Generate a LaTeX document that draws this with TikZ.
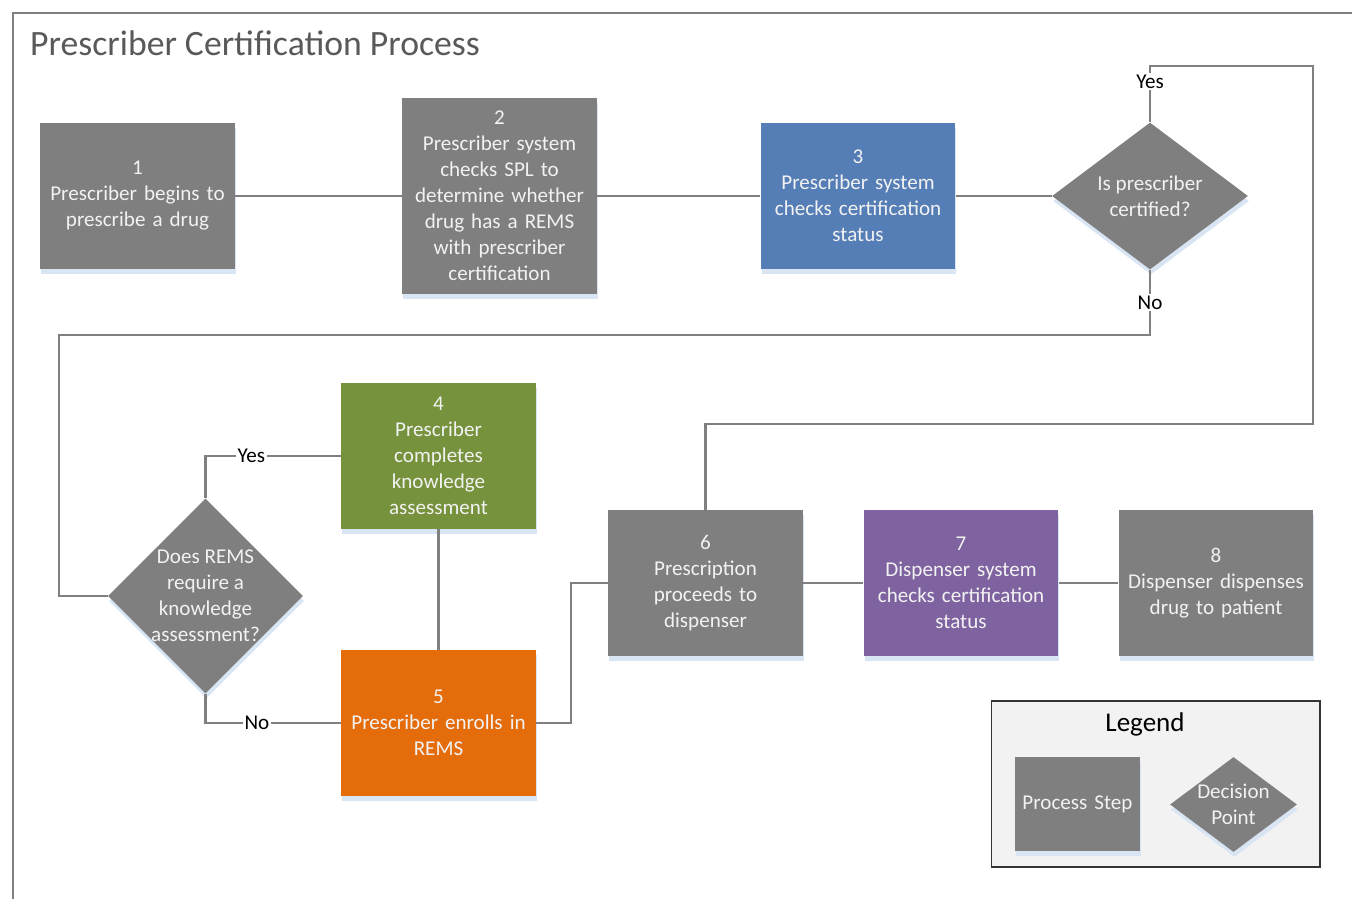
\documentclass[tikz,border=0pt]{standalone}
\usepackage{fontspec}
\setmainfont{Carlito}
\usetikzlibrary{shapes.geometric,shadows,positioning}
\definecolor{stepgray}{HTML}{7F7F7F}
\definecolor{wiregray}{HTML}{808080}
\definecolor{titlegray}{HTML}{595959}
\definecolor{stepblue}{HTML}{567EB6}
\definecolor{stepgreen}{HTML}{76923C}
\definecolor{steporange}{HTML}{E46C0A}
\definecolor{steppurple}{HTML}{7F63A1}
\definecolor{shadowblue}{HTML}{D9E5F3}
\definecolor{legendfill}{HTML}{F2F2F2}
\tikzset{
  stepbox/.style  = {rectangle, fill=stepgray, minimum width=3.9cm, minimum height=2.92cm,
                     inner xsep=1pt, text width=3.8cm, align=center, text=legendfill,
                     font=\fontsize{12}{14.8}\selectfont,
                     general shadow={fill=shadowblue, shadow xshift=0.02cm, shadow yshift=-0.1cm}},
  decision/.style = {diamond, fill=stepgray, inner sep=0pt,
                     general shadow={fill=shadowblue, shadow xshift=0.02cm, shadow yshift=-0.1cm}},
  dtext/.style    = {align=center, text=legendfill, font=\fontsize{12}{14.8}\selectfont},
  wire/.style     = {draw=wiregray, line width=1.3pt},
  answer/.style   = {fill=white, inner sep=1pt, font=\fontsize{12}{13}\selectfont},
}
\begin{document}
\begin{tikzpicture}[x=0.02cm,y=-0.02cm]
  \useasboundingbox (0,0) rectangle (1352,899);
  % frame and title
  \draw[wire, line width=1pt] (13,899) -- (13,13) -- (1352,13);
  \node[anchor=west, text=titlegray, font=\fontsize{20.3}{22}\selectfont] (title) at (24,43)
    {Prescriber Certification Process};

  % process steps
  \node[stepbox] (b1) at (137.5,196) {1\\Prescriber begins to\\prescribe a drug};
  \node[stepbox, minimum height=3.92cm] (b2) at (499.5,196)
    {2\\Prescriber system\\checks SPL to\\determine whether\\drug has a REMS\\with prescriber\\certification};
  \node[stepbox, fill=stepblue] (b3) at (858,196) {3\\Prescriber system\\checks certification\\status};
  \node[decision, minimum width=3.92cm, minimum height=2.94cm,
        label={[dtext]center:Is prescriber\\certified?}] (d1) at (1150,196) {};
  \node[stepbox, fill=stepgreen] (b4) at (438.5,456)
    {4\\Prescriber\\completes\\knowledge\\assessment};
  \node[decision, minimum width=3.9cm, minimum height=3.9cm,
        label={[dtext]center:Does REMS\\require a\\knowledge\\assessment?}] (d2) at (205.5,596) {};
  \node[stepbox, fill=steporange] (b5) at (438.5,723) {5\\Prescriber enrolls in\\REMS};
  \node[stepbox] (b6) at (705.5,583) {6\\Prescription\\proceeds to\\dispenser};
  \node[stepbox, fill=steppurple] (b7) at (961,583) {7\\Dispenser system\\checks certification\\status};
  \node[stepbox] (b8) at (1216,583) {8\\Dispenser dispenses\\drug to patient};

  % connectors
  \coordinate (yesup) at (1313,66);
  \coordinate (yesdown) at (1313,424);
  \coordinate (noleft) at (59,335);
  \draw[wire] (b1) -- (b2);
  \draw[wire] (b2) -- (b3);
  \draw[wire] (b3) -- (d1);
  \draw[wire] (d1.north) |- node[answer, pos=0.36] {Yes} (yesup) -- (yesdown) -| (b6.north);
  \draw[wire] (d1.south) |- node[answer, pos=0.25] {No} (noleft) |- (d2.west);
  \draw[wire] (d2.north) |- node[answer, pos=0.67] {Yes} (b4.west);
  \draw[wire] (d2.south) |- node[answer, pos=0.69] {No} (b5.west);
  \draw[wire] (b4) -- (b5);
  \draw[wire] (b5.east) -- ++(35,0) |- (b6.west);
  \draw[wire] (b6) -- (b7);
  \draw[wire] (b7) -- (b8);

  % legend
  \node[draw=black!80, fill=legendfill, line width=0.6pt, minimum width=6.58cm,
        minimum height=3.32cm] (legend) at (1155.5,784) {};
  \node[font=\fontsize{15.4}{17}\selectfont] (legendtitle) at (1145,724) {Legend};
  \node[stepbox, minimum width=2.5cm, minimum height=1.88cm, text width=2.4cm]
    (legstep) at (1077.5,804) {Process Step};
  \node[decision, minimum width=2.54cm, minimum height=1.9cm,
        label={[dtext]center:Decision\\Point}] (legdec) at (1233.5,804.5) {};
\end{tikzpicture}
\end{document}
